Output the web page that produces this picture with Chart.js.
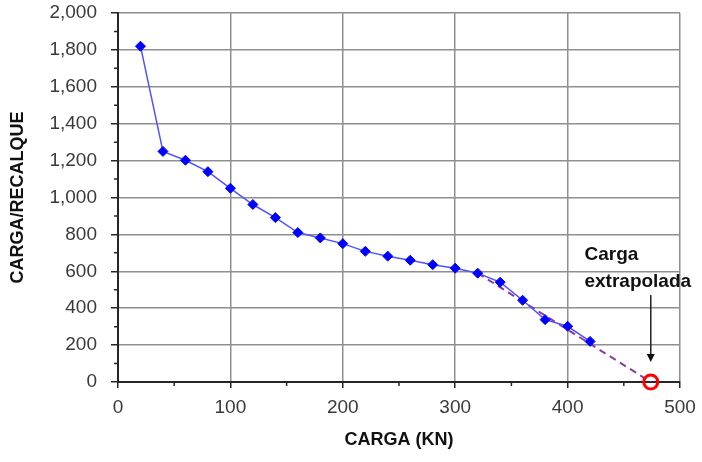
<!DOCTYPE html>
<html>
<head>
<meta charset="utf-8">
<script src="https://cdn.jsdelivr.net/npm/chart.js@4"></script>
<style>
  html, body { margin: 0; padding: 0; background: #fff; }
  #wrap { width: 702px; height: 462px; }
</style>
</head>
<body>
<div id="wrap"><canvas id="chart" width="702" height="462"></canvas></div>
<script>
// load (kN) and load/settlement values
const cargas = [20, 40, 60, 80, 100, 120, 140, 160, 180, 200, 220, 240, 260, 280, 300, 320, 340, 360, 380, 400, 420];
const razao = [1820, 1250, 1202, 1140, 1050, 962, 891, 810, 781, 750, 708, 682, 660, 636, 617, 590, 541, 443, 338, 302, 220];

// extrapolation line and the extrapolated load
const extrapX = [320, 474];
const extrapY = [590, 0];
const cargaExtrapolada = 474;

const xTicks = [0, 100, 200, 300, 400, 500];
const yTicks = [0, 200, 400, 600, 800, 1000, 1200, 1400, 1600, 1800, 2000];

const noteLines = ['Carga', 'extrapolada'];

const gridColor = '#8f8f8f';
const axisColor = '#262626';
const tickFont = { family: 'Liberation Sans', size: 19 };
const titleFont = { family: 'Liberation Sans', size: 18, weight: 'bold' };

const annotate = {
    id: 'annotate',
    afterDraw(chart) {
        const c = chart.ctx;
        const xs = chart.scales.x, ys = chart.scales.y;
        const area = chart.chartArea;

        // minor tick marks
        c.save();
        c.strokeStyle = axisColor;
        c.lineWidth = 1.5;
        c.beginPath();
        for (let v = 50; v < 500; v += 100) {
            const px = xs.getPixelForValue(v);
            c.moveTo(px, area.bottom);
            c.lineTo(px, area.bottom + 4);
        }
        for (let v = 100; v < 2000; v += 200) {
            const py = ys.getPixelForValue(v);
            c.moveTo(area.left - 4, py);
            c.lineTo(area.left, py);
        }
        c.stroke();

        // note text
        c.fillStyle = '#111';
        c.font = 'bold 19px "Liberation Sans"';
        c.textAlign = 'left';
        c.textBaseline = 'middle';
        const tx = xs.getPixelForValue(415);
        c.fillText(noteLines[0], tx, ys.getPixelForValue(690));
        c.fillText(noteLines[1], tx, ys.getPixelForValue(545));

        // arrow down to the extrapolated load
        const ax = xs.getPixelForValue(cargaExtrapolada);
        const y1 = ys.getPixelForValue(471);
        const y2 = ys.getPixelForValue(108);
        c.strokeStyle = '#222';
        c.lineWidth = 1.5;
        c.beginPath();
        c.moveTo(ax, y1);
        c.lineTo(ax, y2 - 6);
        c.stroke();
        c.beginPath();
        c.moveTo(ax - 4, y2 - 8);
        c.lineTo(ax + 4, y2 - 8);
        c.lineTo(ax, y2);
        c.closePath();
        c.fill();
        c.restore();
    }
};

new Chart(document.getElementById('chart').getContext('2d'), {
    type: 'scatter',
    data: {
        datasets: [
            {
                label: 'extrapolação',
                data: extrapX.map((x, i) => ({ x, y: extrapY[i] })),
                showLine: true,
                borderColor: '#8a3c9c',
                borderWidth: 2,
                borderDash: [7, 5],
                pointRadius: 0,
                clip: false,
                order: 2
            },
            {
                label: 'Carga/Recalque',
                data: cargas.map((x, i) => ({ x, y: razao[i] })),
                showLine: true,
                borderColor: '#5252ff',
                borderWidth: 1.5,
                pointStyle: 'rectRot',
                pointRadius: 5,
                pointBackgroundColor: '#0000ff',
                pointBorderColor: '#0000ff',
                pointBorderWidth: 1,
                order: 1
            },
            {
                label: 'Carga extrapolada',
                data: [{ x: cargaExtrapolada, y: 0 }],
                pointStyle: 'circle',
                pointRadius: 7,
                pointBorderWidth: 3,
                pointBorderColor: '#ff0000',
                pointBackgroundColor: 'rgba(0,0,0,0)',
                clip: false,
                order: 0
            }
        ]
    },
    options: {
        responsive: false,
        animation: false,
        layout: { padding: { top: 13, right: 22, left: 0, bottom: 0 } },
        plugins: {
            legend: { display: false },
            tooltip: { enabled: false }
        },
        scales: {
            x: {
                type: 'linear',
                min: 0,
                max: 500,
                afterBuildTicks: s => { s.ticks = xTicks.map(v => ({ value: v })); },
                afterFit: s => { s.height = 80; s.paddingLeft = 0; s.paddingRight = 0; },
                grid: { color: gridColor, lineWidth: 1.5, tickColor: axisColor, tickLength: 6 },
                border: { color: axisColor, width: 2 },
                ticks: { color: '#3a3a3a', font: tickFont, padding: 8, maxRotation: 0 },
                title: { display: true, text: 'CARGA (KN)', color: '#111', font: titleFont, padding: { top: 0, bottom: 11 } }
            },
            y: {
                type: 'linear',
                min: 0,
                max: 2000,
                afterBuildTicks: s => { s.ticks = yTicks.map(v => ({ value: v })); },
                afterFit: s => { s.width = 118; s.paddingTop = 0; s.paddingBottom = 0; },
                grid: { color: gridColor, lineWidth: 1.5, tickColor: axisColor, tickLength: 7 },
                border: { color: axisColor, width: 2 },
                ticks: { color: '#3a3a3a', font: tickFont, padding: 14 },
                title: { display: true, text: 'CARGA/RECALQUE', color: '#111', font: titleFont, padding: { top: 7, bottom: 0 } }
            }
        }
    },
    plugins: [annotate]
});
</script>
</body>
</html>
